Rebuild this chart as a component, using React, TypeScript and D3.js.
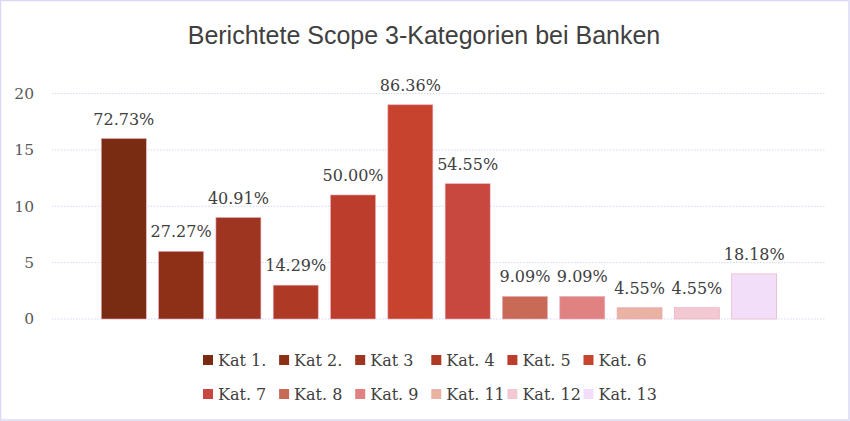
import React from "react";
import * as d3 from "d3";

const categories = ["Kat 1.", "Kat 2.", "Kat 3", "Kat. 4", "Kat. 5", "Kat. 6", "Kat. 7", "Kat. 8", "Kat. 9", "Kat. 11", "Kat. 12", "Kat. 13"];
const values = [16, 6, 9, 3, 11, 19, 12, 2, 2, 1, 1, 4];
const shares = ["72.73%", "27.27%", "40.91%", "14.29%", "50.00%", "86.36%", "54.55%", "9.09%", "9.09%", "4.55%", "4.55%", "18.18%"];
const colors = ["#7A2C12", "#8E3018", "#9E3520", "#AE3A26", "#BC3D2B", "#C8432E", "#C8473F", "#C86A55", "#E08282", "#EAB2A2", "#F2C9D2", "#F3DEF9"];
const yTicks = [0, 5, 10, 15, 20];
const title = "Berichtete Scope 3-Kategorien bei Banken";

const W = 850;
const H = 421;
const plot = { left: 52, right: 826, top: 93.5, bottom: 319 };

export default function App() {
  const x = d3
    .scaleBand<string>()
    .domain(categories)
    .range([plot.left, plot.right])
    .paddingInner(0.215)
    .paddingOuter(0.86);
  const y = d3.scaleLinear().domain([0, 20]).range([plot.bottom, plot.top]);

  const serif = "'DejaVu Serif', serif";
  const legendX0 = 203;
  const legendStep = 76.1;
  const legendRows = [360, 394];

  return (
    <svg
      width={W}
      height={H}
      style={{ position: "absolute", left: 0, top: 0, background: "#ffffff" }}
    >
      <rect x={0.5} y={0.5} width={W - 1.5} height={H - 1.5} fill="#fff" stroke="#D9D9F6" strokeWidth={1.5} />
      <text
        x={424}
        y={44}
        textAnchor="middle"
        fontFamily="'Liberation Sans', Arial, sans-serif"
        fontSize={25}
        fill="#404040"
      >
        {title}
      </text>
      {yTicks.map((t) => (
        <g key={t}>
          <line
            x1={plot.left}
            x2={plot.right}
            y1={y(t)}
            y2={y(t)}
            stroke="#D6D6F2"
            strokeWidth={1}
            strokeDasharray="1.5,1.5"
          />
          <text
            x={34}
            y={y(t)}
            dy="0.35em"
            textAnchor="end"
            fontFamily={serif}
            fontSize={15.5}
            fill="#595959"
          >
            {t}
          </text>
        </g>
      ))}
      {categories.map((c, i) => (
        <g key={c}>
          <rect
            x={x(c)}
            y={y(values[i])}
            width={x.bandwidth()}
            height={y(0) - y(values[i])}
            fill={colors[i]}
            stroke="#E9A9B9"
            strokeWidth={0.6}
          />
          <text
            x={(x(c) as number) + x.bandwidth() / 2}
            y={y(values[i]) - 14}
            textAnchor="middle"
            fontFamily={serif}
            fontSize={16}
            fill="#404040"
          >
            {shares[i]}
          </text>
        </g>
      ))}
      {categories.map((c, i) => {
        const row = Math.floor(i / 6);
        const col = i % 6;
        const lx = legendX0 + col * legendStep;
        const ly = legendRows[row];
        return (
          <g key={"lg" + c}>
            <rect x={lx} y={ly - 5} width={10} height={10} fill={colors[i]} />
            <text
              x={lx + 15}
              y={ly}
              dy="0.35em"
              fontFamily={serif}
              fontSize={16}
              fill="#404040"
            >
              {c}
            </text>
          </g>
        );
      })}
    </svg>
  );
}
